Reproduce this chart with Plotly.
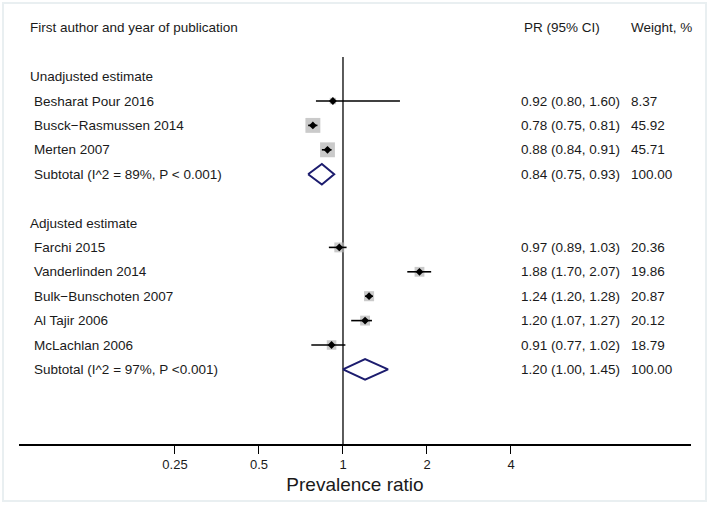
import math
import plotly.graph_objects as go

# forest plot data
groups = ["Unadjusted estimate", "Adjusted estimate"]
studies = ["Besharat Pour 2016", "Busck−Rasmussen 2014", "Merten 2007",
           "Farchi 2015", "Vanderlinden 2014", "Bulk−Bunschoten 2007", "Al Tajir 2006", "McLachlan 2006"]
study_group = [0, 0, 0, 1, 1, 1, 1, 1]
pr = [0.92, 0.78, 0.88, 0.97, 1.88, 1.24, 1.20, 0.91]
lo = [0.80, 0.75, 0.84, 0.89, 1.70, 1.20, 1.07, 0.77]
hi = [1.60, 0.81, 0.91, 1.03, 2.07, 1.28, 1.27, 1.02]
weight = [8.37, 45.92, 45.71, 20.36, 19.86, 20.87, 20.12, 18.79]

sub_labels = ["Subtotal (I^2 = 89%, P < 0.001)", "Subtotal (I^2 = 97%, P <0.001)"]
sub_pr = [0.84, 1.20]
sub_lo = [0.75, 1.00]
sub_hi = [0.93, 1.45]
sub_weight = [100.00, 100.00]

tick_vals = [0.25, 0.5, 1, 2, 4]
tick_text = ["0.25", "0.5", "1", "2", "4"]

# row layout: header at 0, blank, then each group
group_row, study_row, sub_row = [], [], []
r = 2
for g in range(len(groups)):
    group_row.append(r)
    r += 1
    for i, sg in enumerate(study_group):
        if sg == g:
            study_row.append(r)
            r += 1
    sub_row.append(r)
    r += 2

FONT = "Liberation Sans, Arial, Helvetica, sans-serif"
TXT = "#1a1a1a"
W, H = 709, 505
L, R, T, B = 19, 18, 0, 61
pw = W - L - R


def px(x):
    return (x - L) / pw


fig = go.Figure()

# weight boxes
fig.add_trace(go.Scatter(
    x=pr, y=study_row, mode="markers",
    marker=dict(symbol="square", size=[2.2 * math.sqrt(w) for w in weight],
                color="#b4b4b4", line=dict(width=0)),
    hoverinfo="skip", showlegend=False))

# confidence intervals
cx, cy = [], []
for a, b, yy in zip(lo, hi, study_row):
    cx += [a, b, None]
    cy += [yy, yy, None]
fig.add_trace(go.Scatter(x=cx, y=cy, mode="lines", line=dict(color="black", width=1.6),
                         hoverinfo="skip", showlegend=False))

# point estimates
fig.add_trace(go.Scatter(x=pr, y=study_row, mode="markers",
                         marker=dict(symbol="diamond", size=6, color="black"),
                         hoverinfo="skip", showlegend=False))

# subtotal diamonds
hh = 0.42
for p, a, b, yy in zip(sub_pr, sub_lo, sub_hi, sub_row):
    fig.add_trace(go.Scatter(
        x=[a, p, b, p, a], y=[yy, yy - hh, yy, yy + hh, yy],
        mode="lines", fill="toself", fillcolor="white",
        line=dict(color="#1c1c6e", width=2), hoverinfo="skip", showlegend=False))

y_bottom = (H - B - T - 27.8) / 24.4
y_top = -27.8 / 24.4

# null line
fig.add_shape(type="line", xref="x", yref="y", x0=1, x1=1, y0=1.2, y1=y_bottom,
              line=dict(color="#333333", width=1.6), layer="below")

# frame
fig.add_shape(type="rect", xref="paper", yref="paper",
              x0=px(3), x1=px(706), y0=(H - B - 501) / (H - B - T), y1=(H - B - 3) / (H - B - T),
              line=dict(color="#e9eff1", width=2))

ann = []


def text(x, y, s):
    ann.append(dict(x=px(x), y=y, xref="paper", yref="y", text=s, showarrow=False,
                    xanchor="left", yanchor="middle", font=dict(size=13.5, color=TXT, family=FONT)))


text(28, 0, "First author and year of publication")
text(522, 0, "PR (95% CI)")
text(629, 0, "Weight, %")
for g, yy in zip(groups, group_row):
    text(28, yy, g)
for i, yy in enumerate(study_row):
    text(32, yy, studies[i])
    text(519, yy, f"{pr[i]:.2f} ({lo[i]:.2f}, {hi[i]:.2f})")
    text(629, yy, f"{weight[i]:.2f}")
for i, yy in enumerate(sub_row):
    text(32, yy, sub_labels[i])
    text(519, yy, f"{sub_pr[i]:.2f} ({sub_lo[i]:.2f}, {sub_hi[i]:.2f})")
    text(629, yy, f"{sub_weight[i]:.2f}")

fig.update_layout(
    width=W, height=H,
    margin=dict(l=L, r=R, t=T, b=B),
    paper_bgcolor="white", plot_bgcolor="white",
    annotations=ann,
    xaxis=dict(type="log", range=[-3.857 * math.log10(2), 4.143 * math.log10(2)],
               tickvals=tick_vals, ticktext=tick_text, ticks="outside", ticklen=8,
               tickcolor="black", tickwidth=1.2, showgrid=False, zeroline=False,
               showline=True, linecolor="black", linewidth=1.6,
               tickfont=dict(size=13, color=TXT, family=FONT),
               title=dict(text="Prevalence ratio", standoff=6,
                          font=dict(size=19, color=TXT, family=FONT))),
    yaxis=dict(range=[y_bottom, y_top], visible=False, showgrid=False, zeroline=False),
)

fig.write_html("out.html", config={"displayModeBar": False},
               post_script="document.body.style.margin='0';")
